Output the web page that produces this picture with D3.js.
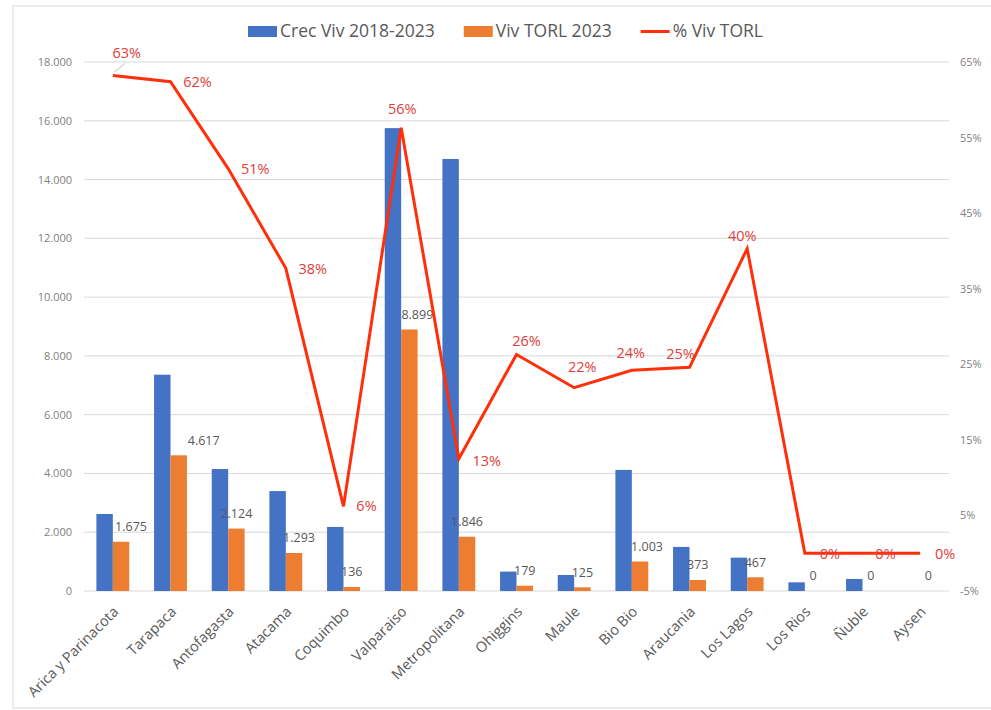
<!DOCTYPE html>
<html>
<head>
<meta charset="utf-8">
<script src="https://cdn.jsdelivr.net/npm/d3@7"></script>
<style>
	body { margin: 0; background: #fff; }
	text { font-family: "Open Sans", "Liberation Sans", sans-serif; }
</style>
</head>
<body>
<div id="chart"></div>
<script>
// categories and series
var regions = ['Arica y Parinacota', 'Tarapaca', 'Antofagasta', 'Atacama', 'Coquimbo', 'Valparaiso',
	'Metropolitana', 'Ohiggins', 'Maule', 'Bio Bio', 'Araucania', 'Los Lagos', 'Los Rios', 'Ñuble', 'Aysen'];
var crecViv = [2620, 7360, 4150, 3400, 2180, 15750, 14700, 660, 545, 4120, 1500, 1135, 295, 410, 0];
var vivTorl = [1675, 4617, 2124, 1293, 136, 8899, 1846, 179, 125, 1003, 373, 467, 0, 0, 0];
var pctTorl = [0.632, 0.624, 0.509, 0.377, 0.062, 0.563, 0.125, 0.263, 0.219, 0.242, 0.246, 0.403, 0, 0, 0];
var leftTicks = [0, 2000, 4000, 6000, 8000, 10000, 12000, 14000, 16000, 18000];
var rightTicks = [-0.05, 0.05, 0.15, 0.25, 0.35, 0.45, 0.55, 0.65];
var seriesNames = ['Crec Viv 2018-2023', 'Viv TORL 2023', '% Viv TORL'];

// label nudges (layout only)
var valDx = [10, 25, 0, 5, 0, 8, 0, 0, 0, 7, 0, 0, 0, 0, 0];
var pctDx = [14, 27, 27, 27, 23, 1, 28, 10, 8, -1, -9, -5, 25, 23, 25];
var pctDy = [-23, 0, 0, 1, 0, -19, 2, -14, -21, -17, -13, -13, 1, 1, 1];

var blue = '#4472c4', orange = '#ed7d31', red = '#ff2f0a', redText = '#e0403a';
var W = 991, H = 710;
var plotLeft = 84, plotRight = 949, plotTop = 62, plotBottom = 591;

var loc = d3.formatLocale({ decimal: ',', thousands: '.', grouping: [3], currency: ['$', ''] });
var fmt = loc.format(',d');

var svg = d3.select('#chart').append('svg')
	.attr('width', W)
	.attr('height', H);

// chart frame
svg.append('rect')
	.attr('x', 13).attr('y', 6)
	.attr('width', 990).attr('height', 702)
	.attr('fill', 'none')
	.attr('stroke', '#d9d9d9');

var x0 = d3.scaleBand()
	.domain(regions)
	.range([plotLeft, plotRight])
	.paddingInner(0.43)
	.paddingOuter(0.215);
var x1 = d3.scaleBand()
	.domain(['crec', 'torl'])
	.range([0, x0.bandwidth()]);
var y = d3.scaleLinear().domain([0, 18000]).range([plotBottom, plotTop]);
var y2 = d3.scaleLinear().domain([-0.05, 0.65]).range([plotBottom, plotTop]);

//gridlines
svg.append('g').selectAll('line')
	.data(leftTicks)
	.enter().append('line')
	.attr('x1', plotLeft).attr('x2', plotRight)
	.attr('y1', function (d) { return y(d); })
	.attr('y2', function (d) { return y(d); })
	.attr('stroke', '#d9d9d9')
	.attr('stroke-width', 1);

//left axis
var yAxis = d3.axisLeft(y).tickValues(leftTicks).tickSize(0).tickPadding(12)
	.tickFormat(function (d) { return fmt(d); });
var gy = svg.append('g').attr('transform', 'translate(' + plotLeft + ',0)').call(yAxis);
gy.select('.domain').remove();
gy.selectAll('text').attr('fill', '#7f7f7f').style('font-size', '11px');

//right axis
var y2Axis = d3.axisRight(y2).tickValues(rightTicks).tickSize(0).tickPadding(11)
	.tickFormat(function (d) { return Math.round(d * 100) + '%'; });
var gy2 = svg.append('g').attr('transform', 'translate(' + plotRight + ',0)').call(y2Axis);
gy2.select('.domain').remove();
gy2.selectAll('text').attr('fill', '#7f7f7f').style('font-size', '11px');

//bars
var groups = svg.append('g').selectAll('g')
	.data(regions)
	.enter().append('g')
	.attr('transform', function (d) { return 'translate(' + x0(d) + ',0)'; });

groups.append('rect')
	.attr('x', x1('crec'))
	.attr('width', x1.bandwidth())
	.attr('y', function (d, i) { return y(crecViv[i]); })
	.attr('height', function (d, i) { return plotBottom - y(crecViv[i]); })
	.attr('fill', blue);

groups.append('rect')
	.attr('x', x1('torl'))
	.attr('width', x1.bandwidth())
	.attr('y', function (d, i) { return y(vivTorl[i]); })
	.attr('height', function (d, i) { return plotBottom - y(vivTorl[i]); })
	.attr('fill', orange);

//orange value labels
groups.append('text')
	.attr('x', function (d, i) { return x1('torl') + x1.bandwidth() / 2 + valDx[i]; })
	.attr('y', function (d, i) { return y(vivTorl[i]) - 15; })
	.attr('dy', '0.35em')
	.attr('text-anchor', 'middle')
	.attr('fill', '#595959')
	.style('font-size', '12.5px')
	.text(function (d, i) { return fmt(vivTorl[i]); });

//percentage line
var cx = function (i) { return x0(regions[i]) + x0.bandwidth() / 2; };
var line = d3.line()
	.x(function (d, i) { return cx(i); })
	.y(function (d) { return y2(d); });
svg.append('path')
	.datum(pctTorl)
	.attr('d', line)
	.attr('fill', 'none')
	.attr('stroke', red)
	.attr('stroke-width', 3)
	.attr('stroke-linejoin', 'miter');

// leader line for first label
svg.append('line')
	.attr('x1', cx(0) + 1).attr('y1', y2(pctTorl[0]) - 3)
	.attr('x2', cx(0) + 12).attr('y2', y2(pctTorl[0]) - 12)
	.attr('stroke', '#bfbfbf');

svg.append('g').selectAll('text')
	.data(pctTorl)
	.enter().append('text')
	.attr('x', function (d, i) { return cx(i) + pctDx[i]; })
	.attr('y', function (d, i) { return y2(d) + pctDy[i]; })
	.attr('dy', '0.35em')
	.attr('text-anchor', 'middle')
	.attr('fill', redText)
	.style('font-size', '14.5px')
	.text(function (d) { return Math.round(d * 100) + '%'; });

//category labels
svg.append('g').selectAll('text')
	.data(regions)
	.enter().append('text')
	.attr('transform', function (d) {
		return 'translate(' + (x0(d) + x0.bandwidth() / 2 + 3) + ',' + 609 + ') rotate(-45)';
	})
	.attr('text-anchor', 'end')
	.attr('dy', '0.35em')
	.attr('fill', '#595959')
	.style('font-size', '14.5px')
	.text(function (d) { return d; });

//legend
var legend = svg.append('g');
var lx = 248;
seriesNames.forEach(function (name, i) {
	if (i < 2) {
		legend.append('rect')
			.attr('x', lx).attr('y', 26)
			.attr('width', 29).attr('height', 11)
			.attr('fill', i == 0 ? blue : orange);
	} else {
		legend.append('line')
			.attr('x1', lx).attr('x2', lx + 29)
			.attr('y1', 31.5).attr('y2', 31.5)
			.attr('stroke', red).attr('stroke-width', 3);
	}
	var t = legend.append('text')
		.attr('x', lx + 32).attr('y', 31)
		.attr('dy', '0.35em')
		.attr('fill', '#595959')
		.style('font-size', '17.5px')
		.text(name);
	lx = lx + 32 + t.node().getComputedTextLength() + 29;
});
</script>
</body>
</html>
